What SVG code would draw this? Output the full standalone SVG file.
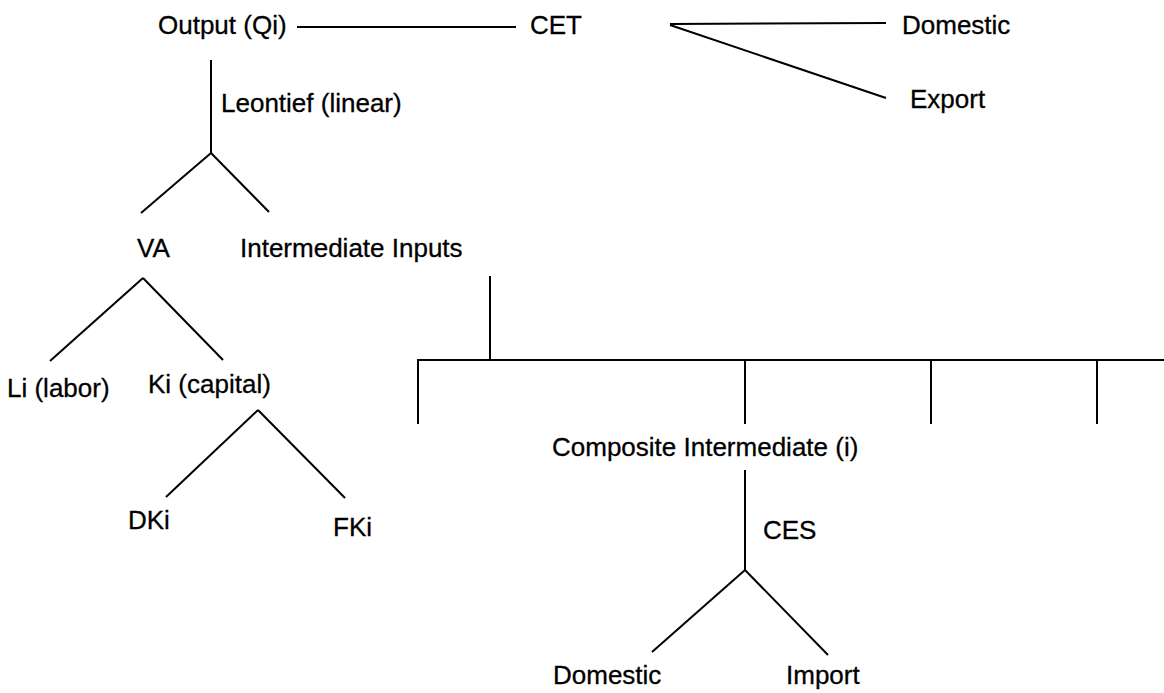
<svg xmlns="http://www.w3.org/2000/svg" width="1164" height="693" viewBox="0 0 1164 693">
<style>
.t{font-family:"Liberation Sans",Arial,sans-serif;font-size:26px;fill:#000;stroke:#000;stroke-width:0.3}
.c line{stroke:#000;stroke-width:2;stroke-linecap:butt}
</style>
<rect width="1164" height="693" fill="#fff"/>
<g class="c" id="connectors">
<line x1="297" y1="27" x2="516" y2="27"/>
<line x1="670" y1="24" x2="886" y2="23"/>
<line x1="670" y1="25" x2="886" y2="98"/>
<line x1="211" y1="60" x2="211" y2="153"/>
<line x1="211" y1="153" x2="141" y2="213"/>
<line x1="211" y1="153" x2="269" y2="212"/>
<line x1="143" y1="278" x2="50" y2="361"/>
<line x1="143" y1="278" x2="223" y2="360"/>
<line x1="258" y1="410" x2="166" y2="497"/>
<line x1="258" y1="410" x2="345" y2="498"/>
<line x1="490" y1="276" x2="490" y2="361"/>
<line x1="417" y1="360" x2="1164" y2="360"/>
<line x1="418" y1="360" x2="418" y2="424"/>
<line x1="745" y1="360" x2="745" y2="424"/>
<line x1="931" y1="360" x2="931" y2="424"/>
<line x1="1097" y1="360" x2="1097" y2="424"/>
<line x1="745" y1="470" x2="745" y2="570"/>
<line x1="745" y1="570" x2="652" y2="652"/>
<line x1="745" y1="570" x2="828" y2="655"/>
</g>
<g id="output"><text class="t" x="158" y="34">Output (Qi)</text></g>
<g id="cet"><text class="t" x="530" y="34">CET</text></g>
<g id="domestic-out"><text class="t" x="902" y="34">Domestic</text></g>
<g id="export"><text class="t" x="910" y="108">Export</text></g>
<g id="leontief"><text class="t" x="221" y="112">Leontief (linear)</text></g>
<g id="va"><text class="t" x="137" y="257">VA</text></g>
<g id="intermediate"><text class="t" x="240" y="257">Intermediate Inputs</text></g>
<g id="labor"><text class="t" x="7" y="397">Li (labor)</text></g>
<g id="capital"><text class="t" x="148" y="393">Ki (capital)</text></g>
<g id="dki"><text class="t" x="128" y="529">DKi</text></g>
<g id="fki"><text class="t" x="333" y="536">FKi</text></g>
<g id="composite"><text class="t" x="552" y="456">Composite Intermediate (i)</text></g>
<g id="ces"><text class="t" x="763" y="539">CES</text></g>
<g id="domestic-in"><text class="t" x="553" y="684">Domestic</text></g>
<g id="import"><text class="t" x="786" y="684">Import</text></g>
</svg>
